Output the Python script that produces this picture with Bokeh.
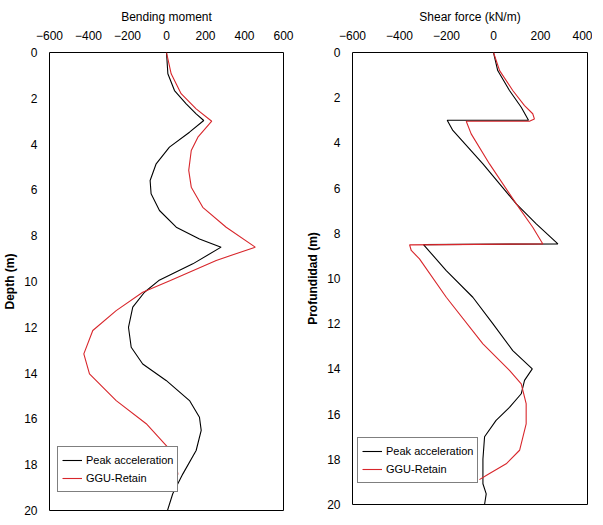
from bokeh.plotting import figure
from bokeh.layouts import row
from bokeh.models import Range1d, FixedTicker
from bokeh.embed import file_html
from bokeh.resources import INLINE

# Bending moment (left panel)
bm_peak_depth = [0, 0.93, 1.66, 2.24, 2.68, 2.97, 3.48, 4.13, 4.86, 5.59, 6.17, 6.9, 7.63, 8.14, 8.5,
                 9.23, 9.96, 10.47, 11.12, 12.0, 12.87, 13.6, 14.32, 15.2, 15.93, 16.5, 17.38, 18.4,
                 19.27, 20.0]
bm_peak = [0, 7, 41, 101, 152, 191, 118, 15, -53, -84, -79, -36, 50, 169, 280,
           135, -40, -113, -173, -195, -181, -122, -2, 118, 169, 178, 152, 84,
           32, 5]
bm_ggu_depth = [0, 0.93, 1.8, 2.46, 3.0, 3.7, 4.28, 5.15, 5.88, 6.76, 7.63, 8.5, 9.08, 9.96,
                10.47, 11.27, 12.14, 13.16, 14.03, 15.2, 16.21, 17.24, 17.96, 18.4, 18.8]
bm_ggu = [0, 24, 75, 152, 232, 161, 127, 114, 127, 186, 306, 455, 255, 20,
          -122, -258, -378, -424, -395, -258, -104, 7, 50, 58, 47]

# Shear force (right panel)
sf_peak_depth = [0, 0.8, 1.68, 2.42, 3.0, 3.0, 3.45, 4.93, 6.7, 7.58, 8.47, 8.5, 9.65, 10.83, 12.0,
                 13.19, 14.0, 14.51, 15.1, 15.7, 16.28, 17.0, 18.0, 19.08, 19.53, 20.0]
sf_peak = [0, 18, 68, 118, 149, -197, -173, -45, 97, 182, 274, -298, -201, -88, -3,
           82, 165, 132, 118, 68, 11, -38, -45, -45, -31, -38]
sf_ggu_depth = [0, 0.8, 1.68, 2.35, 2.71, 2.94, 3.04, 3.04, 3.6, 4.93, 6.7, 7.73, 8.47, 8.51, 8.76,
                9.13, 10.83, 12.89, 14.07, 14.66, 15.54, 16.43, 17.6, 18.2, 18.67, 18.9]
sf_ggu = [0, 26, 82, 132, 167, 174, 153, -116, -95, -17, 97, 167, 210, -357, -350,
          -315, -201, -45, 68, 118, 139, 139, 111, 54, -24, -60]

bm_ticks = [-600, -400, -200, 0, 200, 400, 600]
sf_ticks = [-600, -400, -200, 0, 200, 400]
depth_ticks = [0, 2, 4, 6, 8, 10, 12, 14, 16, 18, 20]

FONT = "Liberation Sans"
RED = "#d8262b"


def make_panel(xr, xticks, xlabel, ylabel, fw, fh, mbl, mbr, mbb):
    p = figure(frame_width=fw, frame_height=fh, x_range=Range1d(*xr), y_range=Range1d(20, 0),
               x_axis_location="above", output_backend="svg", toolbar_location=None,
               min_border_left=mbl, min_border_right=mbr, min_border_top=52, min_border_bottom=mbb)
    p.xgrid.visible = False
    p.ygrid.visible = False
    p.outline_line_color = "black"
    p.outline_line_width = 1
    p.outline_line_alpha = 1
    p.xaxis.ticker = FixedTicker(ticks=xticks)
    p.yaxis.ticker = FixedTicker(ticks=depth_ticks)
    for ax in (p.xaxis[0], p.yaxis[0]):
        ax.axis_line_color = None
        ax.major_tick_line_color = None
        ax.minor_tick_line_color = None
        ax.major_label_text_font = FONT
        ax.major_label_text_font_size = "12px"
        ax.major_label_text_color = "black"
        ax.axis_label_text_font = FONT
        ax.axis_label_text_font_size = "12px"
        ax.axis_label_text_color = "black"
    p.xaxis.axis_label = xlabel
    p.xaxis.axis_label_text_font_style = "normal"
    p.xaxis.major_label_standoff = 7
    p.xaxis.axis_label_standoff = 4
    p.yaxis.axis_label = ylabel
    p.yaxis.axis_label_text_font_style = "bold"
    p.yaxis.major_label_standoff = 6
    p.yaxis.axis_label_standoff = 4
    return p


p1 = make_panel((-600, 600), bm_ticks, "Bending moment", "Depth (m)", 234, 458, 40, 18, 10)
p1.line(bm_peak, bm_peak_depth, color="black", line_width=1.1, legend_label="Peak acceleration")
p1.line(bm_ggu, bm_ggu_depth, color=RED, line_width=1.1, legend_label="GGU-Retain")

p2 = make_panel((-600, 400), sf_ticks, "Shear force (kN/m)", "Profundidad (m)", 235, 452, 51, 5, 16)
p2.line(sf_peak, sf_peak_depth, color="black", line_width=1.1, legend_label="Peak acceleration")
p2.line(sf_ggu, sf_ggu_depth, color=RED, line_width=1.1, legend_label="GGU-Retain")

for p, loc in ((p1, (8, 18)), (p2, (5, 21))):
    lg = p.legend[0]
    lg.location = loc
    lg.border_line_color = "black"
    lg.border_line_width = 1
    lg.background_fill_color = "white"
    lg.background_fill_alpha = 1
    lg.padding = 4
    lg.spacing = 0
    lg.margin = 0
    lg.label_height = 18
    lg.glyph_height = 18
    lg.glyph_width = 20
    lg.label_standoff = 4
    lg.label_text_font = FONT
    lg.label_text_font_size = "11px"
    lg.label_text_color = "black"

layout = row(p1, p2, spacing=0)
open("out.html", "w").write(file_html(layout, INLINE))
